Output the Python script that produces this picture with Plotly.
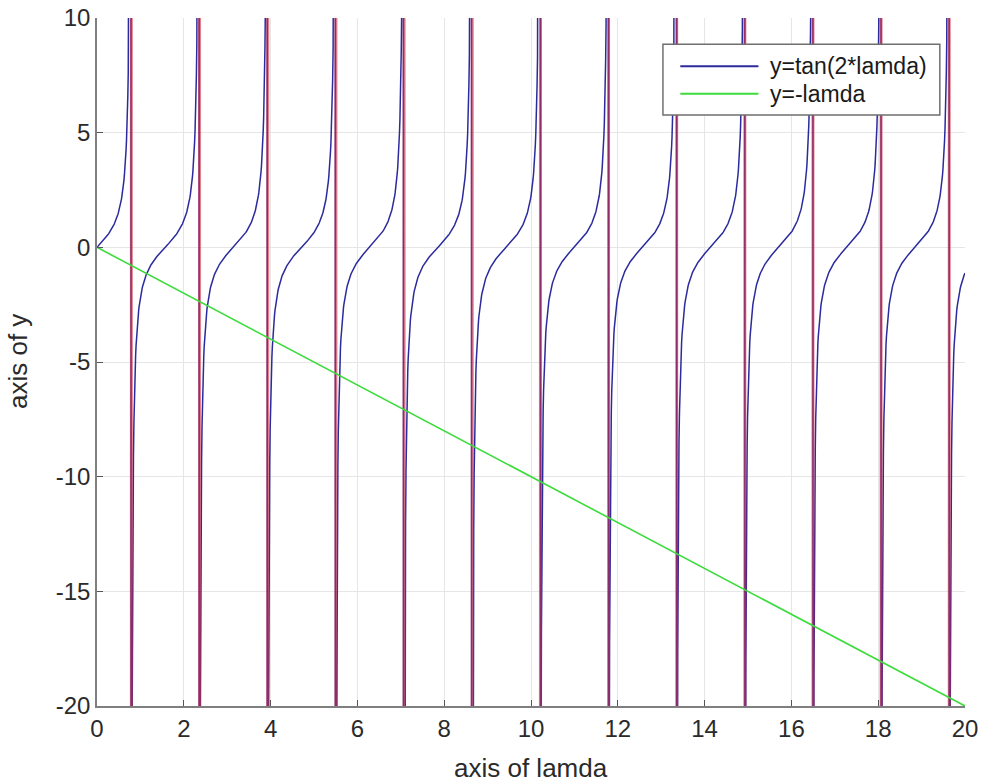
import numpy as np
import plotly.graph_objects as go

# ---- data ----
lamda = np.arange(0, 20.0001, 0.01)          # sampled lamda values
y_tan = np.tan(2 * lamda)                    # y = tan(2*lamda) as labelled in the legend
green_x = [0, 20]
green_y = [0, -20]
asymptotes = [0.792, 2.363, 3.934, 5.505, 7.076, 8.646, 10.217,
              11.787, 13.357, 14.927, 16.497, 18.067, 19.637]
x_ticks = [0, 2, 4, 6, 8, 10, 12, 14, 16, 18, 20]
y_ticks = [-20, -15, -10, -5, 0, 5, 10]
legend_labels = ["y=tan(2*lamda)", "y=-lamda"]

BLUE = "#2b2b9e"
GREEN = "#3ddc3d"
RED = "rgba(205,45,70,0.6)"
FONT = "Liberation Sans, Arial, sans-serif"
TXT = "#2a2a2a"

fig = go.Figure()

fig.add_trace(go.Scatter(x=lamda, y=y_tan, mode="lines", name=legend_labels[0],
                         line=dict(color=BLUE, width=1.5), showlegend=False))

# red vertical lines at the asymptotes (drawn over the blue connectors)
rx, ry = [], []
for a in asymptotes:
    rx += [a, a, None]
    ry += [-20, 10, None]
fig.add_trace(go.Scatter(x=rx, y=ry, mode="lines",
                         line=dict(color=RED, width=3), showlegend=False, hoverinfo="skip"))

fig.add_trace(go.Scatter(x=green_x, y=green_y, mode="lines", name=legend_labels[1],
                         line=dict(color=GREEN, width=1.6), showlegend=False))

axis_common = dict(showgrid=True, gridcolor="#e6e6e6", gridwidth=1,
                   showline=True, linecolor="#7f7f7f", linewidth=1.5,
                   ticks="inside", ticklen=6, tickcolor="#555555", tickwidth=1,
                   zeroline=False, mirror=False, automargin=False,
                   ticklabeloverflow="allow",
                   tickfont=dict(family=FONT, size=24, color=TXT))

fig.update_xaxes(range=[0, 20], tickvals=x_ticks, ticktext=[str(v) for v in x_ticks],
                 **axis_common)
fig.update_yaxes(range=[-20, 10], tickvals=y_ticks, ticktext=[str(v) for v in y_ticks],
                 **axis_common)

# axis titles
fig.add_annotation(xref="paper", yref="paper", x=0.5, y=-0.090, text="axis of lamda",
                   showarrow=False, xanchor="center", yanchor="middle",
                   font=dict(family=FONT, size=26, color=TXT))
fig.add_annotation(xref="paper", yref="paper", x=-0.091, y=0.5, text="axis of y",
                   showarrow=False, xanchor="center", yanchor="middle", textangle=-90,
                   font=dict(family=FONT, size=26, color=TXT))

# manual MATLAB-style legend box
lx0, lx1, ly0, ly1 = 0.652, 0.971, 0.859, 0.962
fig.add_shape(type="rect", xref="paper", yref="paper", x0=lx0, x1=lx1, y0=ly0, y1=ly1,
              line=dict(color="#6f6f6f", width=1.5), fillcolor="white", layer="above")
rows_y = [0.930, 0.890]
for yy, col, lab in zip(rows_y, [BLUE, GREEN], legend_labels):
    fig.add_shape(type="line", xref="paper", yref="paper", x0=0.672, x1=0.762, y0=yy, y1=yy,
                  line=dict(color=col, width=2), layer="above")
    fig.add_annotation(xref="paper", yref="paper", x=0.773, y=yy, text=lab, showarrow=False,
                       xanchor="left", yanchor="middle",
                       font=dict(family=FONT, size=23, color="#1a1a1a"))

fig.update_layout(width=984, height=784, plot_bgcolor="white", paper_bgcolor="white",
                  margin=dict(l=97, r=19, t=18, b=78), showlegend=False)

fig.write_html("out.html")
